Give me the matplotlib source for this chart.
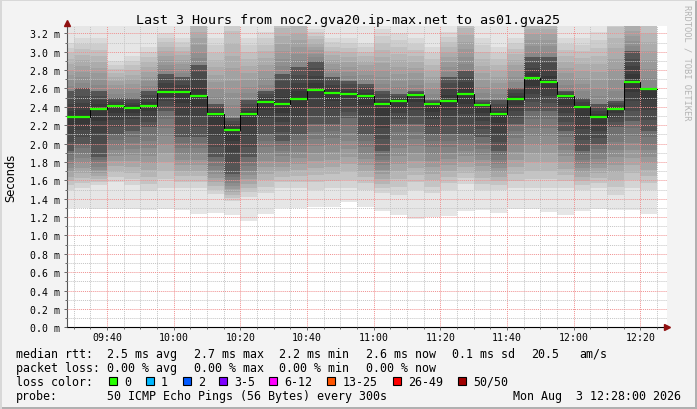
import matplotlib
matplotlib.use("Agg")
import matplotlib.pyplot as plt
import numpy as np
from matplotlib.patches import Rectangle
from matplotlib.ticker import MultipleLocator, FuncFormatter

# time bins, minutes after midnight: 09:28, then every 5 min up to 12:25
bin_edges = [568] + list(range(570, 750, 5))

# median rtt per bin (ms)
median = [2.29, 2.29, 2.38, 2.41, 2.39, 2.41, 2.56, 2.56, 2.52, 2.32, 2.15, 2.32,
          2.45, 2.43, 2.49, 2.58, 2.55, 2.54, 2.52, 2.43, 2.46, 2.53, 2.43, 2.46,
          2.54, 2.42, 2.32, 2.49, 2.71, 2.67, 2.52, 2.40, 2.29, 2.38, 2.67, 2.59]

# smoke: spread of the 50 pings per bin (ms)
smoke_lo = [1.30, 1.30, 1.29, 1.29, 1.29, 1.28, 1.285, 1.28, 1.23, 1.24, 1.22, 1.16,
            1.23, 1.30, 1.30, 1.315, 1.315, 1.365, 1.315, 1.267, 1.22, 1.176, 1.20, 1.21,
            1.267, 1.278, 1.24, 1.293, 1.293, 1.256, 1.22, 1.267, 1.293, 1.278, 1.278, 1.23]
smoke_p10 = [1.50, 1.52, 1.55, 1.58, 1.55, 1.48, 1.52, 1.52, 1.52, 1.45, 1.38, 1.42,
             1.46, 1.52, 1.52, 1.50, 1.52, 1.52, 1.50, 1.46, 1.44, 1.50, 1.46, 1.50,
             1.56, 1.50, 1.50, 1.52, 1.52, 1.52, 1.52, 1.50, 1.52, 1.44, 1.52, 1.50]
smoke_p30 = [1.92, 2.00, 1.85, 2.10, 2.14, 2.18, 2.36, 2.07, 2.07, 1.85, 1.67, 1.85,
             2.10, 2.03, 2.10, 2.21, 2.21, 2.28, 2.10, 1.92, 2.21, 2.21, 2.10, 2.10,
             2.10, 2.07, 1.92, 2.21, 2.36, 2.36, 2.14, 1.92, 1.99, 2.18, 2.25, 2.14]
smoke_p70 = [2.57, 2.60, 2.57, 2.50, 2.50, 2.57, 2.76, 2.72, 2.86, 2.43, 2.28, 2.47,
             2.57, 2.76, 2.83, 2.90, 2.72, 2.68, 2.65, 2.57, 2.54, 2.57, 2.47, 2.72,
             2.79, 2.47, 2.47, 2.61, 2.94, 2.94, 2.57, 2.50, 2.43, 2.46, 3.01, 2.61]
smoke_p90 = [3.10, 3.15, 3.15, 2.90, 2.95, 3.05, 3.20, 3.15, 3.50, 3.15, 3.50, 3.15,
             3.22, 3.50, 3.50, 3.25, 3.15, 3.15, 3.10, 3.25, 3.20, 3.15, 3.05, 3.22,
             3.50, 3.15, 3.05, 3.15, 3.50, 3.50, 3.15, 3.15, 3.22, 3.50, 3.50, 3.50]
smoke_hi = [3.6] * 36

loss_labels = ['0', '1', '2', '3-5', '6-12', '13-25', '26-49', '50/50']
loss_colors = ['#26ff00', '#00b8ff', '#0059ff', '#7e00ff', '#ff00ff', '#ff5500', '#ff0000', '#a10000']

title = 'Last 3 Hours from noc2.gva20.ip-max.net to as01.gva25'
rtt_stats = ['2.5 ms avg', '2.7 ms max', '2.2 ms min', '2.6 ms now', '0.1 ms sd', '20.5', 'am/s']
loss_stats = ['0.00 % avg', '0.00 % max', '0.00 % min', '0.00 % now']
probe_text = '50 ICMP Echo Pings (56 Bytes) every 300s'
stamp = 'Mon Aug  3 12:28:00 2026'

W, H = 697, 410
MONO = 'DejaVu Sans Mono'


def fx(x):
    return x / W


def fy(y):
    return 1 - y / H


def ext(a):
    return np.append(a, a[-1])


fig = plt.figure(figsize=(W / 100, H / 100), dpi=100, facecolor='#f3f3f3')
ax = fig.add_axes([fx(67), fy(328.3), 600 / W, (328.3 - 27) / H])
ax.set_facecolor('white')

# smoke: light outer band, then shaded layers darkening towards the median
lo, hi = np.array(smoke_lo), np.array(smoke_hi)
p10, p30 = np.array(smoke_p10), np.array(smoke_p30)
p70, p90 = np.array(smoke_p70), np.array(smoke_p90)
med = np.array(median)
ax.fill_between(bin_edges, ext(lo), ext(hi), step='post', color='#e6e6e6', lw=0, zorder=1)
n_shade = 9
for k in range(n_shade):
    f = k / n_shade
    ax.fill_between(bin_edges, ext(p10 + (p30 - p10) * f), ext(med), step='post',
                    color='black', alpha=0.075, lw=0, zorder=1.1)
    ax.fill_between(bin_edges, ext(med), ext(p90 - (p90 - p70) * f), step='post',
                    color='black', alpha=0.055, lw=0, zorder=1.1)
ax.fill_between(bin_edges, ext(p30), ext(p70), step='post', color='#555555', lw=0, zorder=1.2)
for k in range(3):
    f = (k + 1) / 4
    ax.fill_between(bin_edges, ext(p30 + (med - p30) * f), ext(p70 - (p70 - med) * f),
                    step='post', color='black', alpha=0.13, lw=0, zorder=1.3)

# median line
ax.step(bin_edges, ext(median), where='post', color='black', lw=0.7, zorder=3)
ax.hlines(median, bin_edges[:-1], bin_edges[1:], colors='#26ff00', lw=1.6, zorder=4)

ax.set_xlim(568, 748)
ax.set_ylim(0, 3.28)

ax.xaxis.set_major_locator(MultipleLocator(20))
ax.xaxis.set_minor_locator(MultipleLocator(5))
ax.yaxis.set_major_locator(MultipleLocator(0.2))
ax.yaxis.set_minor_locator(MultipleLocator(0.1))
ax.xaxis.set_major_formatter(FuncFormatter(lambda v, p: '%02d:%02d' % (int(v) // 60, int(v) % 60)))
ax.yaxis.set_major_formatter(FuncFormatter(lambda v, p: '%.1f m' % v))

ax.set_axisbelow(False)
ax.grid(which='major', color='#f09090', ls=(0, (1, 1)), lw=0.7)
ax.grid(which='minor', color='#c4c4c4', ls=(0, (1, 1)), lw=0.7)

ax.tick_params(which='both', direction='out', colors='#666666', labelcolor='black', width=0.7)
ax.tick_params(which='major', length=2.2, labelsize=7.1)
ax.tick_params(which='minor', length=1.5)
ax.tick_params(axis='y', pad=3)
ax.tick_params(axis='x', pad=1.5)
for lab in ax.get_xticklabels() + ax.get_yticklabels():
    lab.set_family(MONO)

for s in ['top', 'right']:
    ax.spines[s].set_visible(False)
ax.spines['left'].set_color('#555555')
ax.spines['bottom'].set_color('black')
ax.spines['left'].set_linewidth(0.8)
ax.spines['bottom'].set_linewidth(0.8)

# axis arrows
ax.plot([1.0], [0], transform=ax.transAxes, marker='>', ms=4.5, color='#901010', clip_on=False, zorder=6)
ax.plot([-0.0005], [1.01], transform=ax.transAxes, marker='^', ms=4.5, color='#901010', clip_on=False, zorder=6)

# texts
fig.text(fx(348.5), fy(24), title, ha='center', va='baseline', fontsize=9.6, family=MONO)
fig.text(fx(10.7), fy(177.5), 'Seconds', rotation=90, ha='center', va='center', fontsize=8.3)
fig.text(fx(687), fy(5), 'RRDTOOL / TOBI OETIKER', rotation=270, ha='center', va='top',
         fontsize=6.3, family=MONO, color='#b4b4b4')

fs = 8.35
fig.text(fx(16), fy(357.7), 'median rtt:', fontsize=fs, family=MONO, va='baseline')
for txt, x in zip(rtt_stats, [107.3, 193.7, 279.3, 366, 451.7, 530.7, 579.3]):
    fig.text(fx(x), fy(357.7), txt, fontsize=fs, family=MONO, va='baseline')

fig.text(fx(16), fy(371.7), 'packet loss:', fontsize=fs, family=MONO, va='baseline')
for txt, x in zip(loss_stats, [107.3, 193.7, 279.3, 366]):
    fig.text(fx(x), fy(371.7), txt, fontsize=fs, family=MONO, va='baseline')

fig.text(fx(16), fy(385.7), 'loss color:', fontsize=fs, family=MONO, va='baseline')
for lab, col, x in zip(loss_labels, loss_colors, [108.7, 145.7, 182.7, 219.3, 269.3, 327.3, 393.3, 458.3]):
    fig.patches.append(Rectangle((fx(x), fy(386)), 8 / W, 8 / H, transform=fig.transFigure,
                                 facecolor=col, edgecolor='black', lw=0.8))
    fig.text(fx(x + 15.3), fy(385.7), lab, fontsize=fs, family=MONO, va='baseline')

fig.text(fx(16), fy(399.7), 'probe:', fontsize=fs, family=MONO, va='baseline')
fig.text(fx(107.3), fy(399.7), probe_text, fontsize=fs, family=MONO, va='baseline')
fig.text(fx(680.7), fy(399.7), stamp, fontsize=fs, family=MONO, va='baseline', ha='right')

# image frame
fig.patches.append(Rectangle((0, 0), 1, 2 / H, transform=fig.transFigure, color='#b0b0b0', lw=0))
fig.patches.append(Rectangle((1 - 2 / W, 0), 2 / W, 1, transform=fig.transFigure, color='#b0b0b0', lw=0))
fig.patches.append(Rectangle((0, 1 - 2 / H), 1, 2 / H, transform=fig.transFigure, color='#d8d8d8', lw=0))
fig.patches.append(Rectangle((0, 0), 2 / W, 1, transform=fig.transFigure, color='#d8d8d8', lw=0))

fig.savefig('out.png', dpi=100, facecolor=fig.get_facecolor())
